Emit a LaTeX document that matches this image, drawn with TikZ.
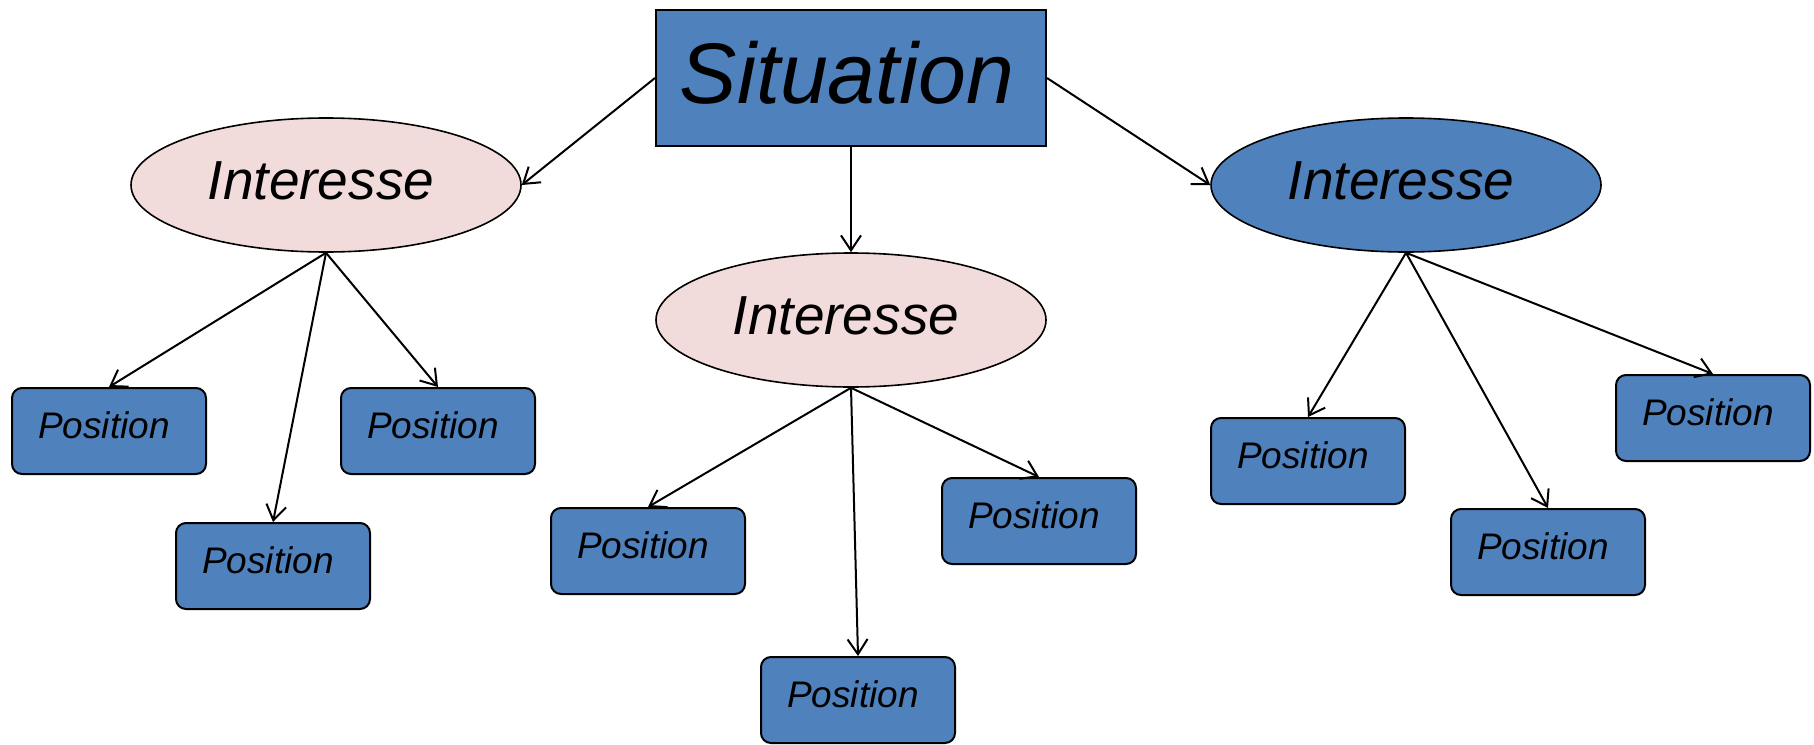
\documentclass[tikz,border=0pt]{standalone}
\usepackage{fontspec}
\setmainfont{Liberation Sans}
\usetikzlibrary{shapes.geometric,arrows.meta}

\definecolor{boxblue}{HTML}{4F81BD}
\definecolor{softpink}{HTML}{F2DCDB}

\begin{document}
\begin{tikzpicture}[x=1pt,y=-1pt,
		sitbox/.style={draw=black, line width=2pt, fill=boxblue, minimum width=390pt, minimum height=136pt, inner sep=0pt, text depth=12pt, execute at end node=\kern8pt, font=\fontsize{86}{86}\selectfont\itshape},
		interest/.style={ellipse, draw=black, line width=1.6pt, minimum width=390pt, minimum height=134pt, inner sep=0pt, text depth=8pt, execute at end node=\kern10pt, font=\fontsize{55}{55}\selectfont\itshape},
		posbox/.style={draw=black, rounded corners=10pt, fill=boxblue, line width=2pt, minimum width=194pt, minimum height=86pt, inner sep=0pt, text depth=12pt, execute at end node=\kern10pt, font=\fontsize{37}{37}\selectfont\itshape},
		link/.style={line width=2pt, -{Straight Barb[length=15pt,width=20pt,line width=2pt]}}]
		% Canvas
		\useasboundingbox (0,0) rectangle (1814,744);
		
		% Top box
		\node[sitbox] (sit) at (851,78) {Situation};
		
		% Interests
		\node[interest, fill=softpink] (intl) at (326,185) {Interesse};
		\node[interest, fill=softpink] (intm) at (851,320) {Interesse};
		\node[interest, fill=boxblue] (intr) at (1406,185) {Interesse};
		
		% Positions
		\node[posbox] (pl1) at (109,431) {Position};
		\node[posbox] (pl2) at (273,566) {Position};
		\node[posbox] (pl3) at (438,431) {Position};
		\node[posbox] (pm1) at (648,551) {Position};
		\node[posbox] (pm2) at (858,700) {Position};
		\node[posbox] (pm3) at (1039,521) {Position};
		\node[posbox] (pr1) at (1308,461) {Position};
		\node[posbox] (pr2) at (1548,552) {Position};
		\node[posbox] (pr3) at (1713,418) {Position};
		
		% Arrows from the situation
		\draw[link] (sit.west) -- (intl.east);
		\draw[link] (sit.south) -- (intm.north);
		\draw[link] (sit.east) -- (intr.west);
		
		% Arrows from the interests
		\foreach \p in {pl1,pl2,pl3} \draw[link] (intl.south) -- (\p.north);
		\foreach \p in {pm1,pm2,pm3} \draw[link] (intm.south) -- (\p.north);
		\foreach \p in {pr1,pr2,pr3} \draw[link] (intr.south) -- (\p.north);
	\end{tikzpicture}
\end{document}
